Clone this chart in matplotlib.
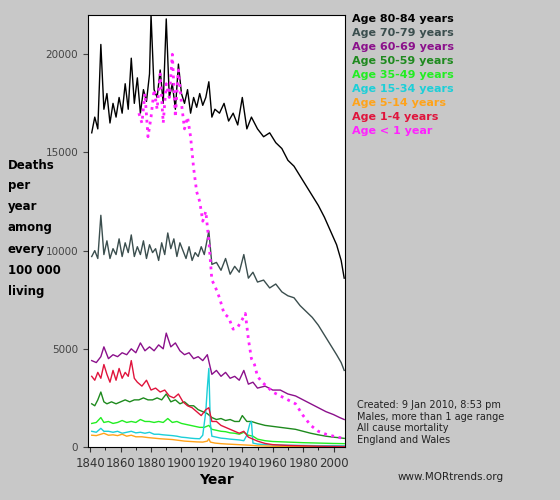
import matplotlib
matplotlib.use("Agg")
import matplotlib.pyplot as plt

yr80 = [1841,1843,1845,1847,1849,1851,1853,1855,1857,1859,1861,1863,1865,1867,1869,1871,1873,1875,1877,1879,1880,1882,1884,1886,1888,1890,1892,1894,1896,1898,1900,1902,1904,1906,1908,1910,1912,1914,1916,1918,1920,1922,1925,1928,1931,1934,1937,1940,1943,1946,1950,1954,1958,1962,1966,1970,1974,1978,1982,1986,1990,1994,1998,2002,2005,2007]
v80 = [16000,16800,16200,20500,17200,18000,16500,17500,16800,17800,17000,18500,17200,19800,17500,18800,17000,18200,17600,19000,22000,18200,17800,19200,17500,21800,17800,18500,17200,19500,18000,17500,18200,17000,17800,17300,18000,17400,17800,18600,16800,17200,17000,17500,16600,17000,16400,17800,16200,16800,16200,15800,16000,15500,15200,14600,14300,13800,13300,12800,12300,11700,11000,10300,9500,8600]
yr70 = [1841,1843,1845,1847,1849,1851,1853,1855,1857,1859,1861,1863,1865,1867,1869,1871,1873,1875,1877,1879,1881,1883,1885,1887,1889,1891,1893,1895,1897,1899,1901,1903,1905,1907,1909,1911,1913,1915,1918,1920,1923,1926,1929,1932,1935,1938,1941,1944,1947,1950,1954,1958,1962,1966,1970,1974,1978,1982,1986,1990,1994,1998,2002,2005,2007]
v70 = [9700,10000,9600,11800,9800,10500,9600,10100,9800,10600,9700,10400,9900,10800,9700,10200,9800,10500,9600,10300,9900,10100,9500,10400,9800,10900,10100,10600,9700,10400,10000,9600,10200,9500,9900,9700,10200,9800,11000,9300,9400,9000,9600,8800,9200,8900,9800,8600,8900,8400,8500,8100,8300,7900,7700,7600,7200,6900,6600,6200,5700,5200,4700,4300,3900]
yr60 = [1841,1844,1847,1849,1852,1855,1858,1861,1864,1867,1870,1873,1876,1879,1882,1885,1888,1890,1893,1896,1899,1902,1905,1908,1911,1914,1917,1920,1923,1926,1929,1932,1935,1938,1941,1944,1947,1950,1955,1960,1965,1970,1975,1980,1985,1990,1995,2000,2004,2007]
v60 = [4400,4300,4600,5100,4500,4700,4600,4800,4700,5000,4800,5300,4900,5100,4900,5200,5000,5800,5100,5300,4900,4700,4800,4500,4600,4400,4700,3700,3900,3600,3800,3500,3600,3400,3900,3200,3300,3000,3100,2900,2900,2700,2600,2400,2200,2000,1800,1650,1500,1400]
yr0 = [1872,1874,1876,1878,1880,1882,1884,1886,1888,1890,1892,1894,1896,1898,1900,1902,1904,1906,1908,1910,1912,1914,1916,1918,1920,1922,1925,1928,1931,1934,1937,1940,1942,1944,1946,1948,1950,1953,1956,1960,1965,1970,1975,1980,1985,1990,1995,2000,2004,2007]
v0 = [17000,16500,18000,15800,16800,18200,17200,19000,16500,18500,17800,20000,16800,19200,17500,16200,16800,15800,14200,13000,12500,11500,12000,10500,8500,8200,7600,6800,6600,6000,6100,6500,6800,5500,4500,4200,3600,3300,3100,2800,2600,2400,2200,1600,1100,800,650,550,480,450]
yr14 = [1841,1843,1845,1847,1849,1851,1853,1855,1857,1859,1861,1863,1865,1867,1869,1871,1874,1877,1880,1883,1886,1889,1892,1895,1898,1901,1904,1907,1910,1913,1916,1918,1920,1923,1926,1929,1932,1935,1938,1941,1944,1947,1950,1955,1960,1970,1980,1990,2000,2007]
v14 = [3600,3400,3800,3500,4200,3700,3300,3900,3400,4000,3500,3800,3600,4400,3500,3300,3100,3400,2900,3000,2800,2900,2600,2500,2700,2300,2100,2000,1800,1600,1900,2000,1300,1300,1100,1000,900,800,700,800,500,400,300,180,120,80,60,40,30,25]
yr50 = [1841,1843,1845,1847,1849,1851,1854,1857,1860,1863,1866,1869,1872,1875,1878,1881,1884,1887,1890,1893,1896,1899,1902,1905,1908,1911,1914,1917,1920,1923,1926,1929,1932,1935,1938,1940,1943,1946,1950,1955,1960,1965,1970,1975,1980,1985,1990,1995,2000,2004,2007]
v50 = [2200,2100,2400,2800,2300,2200,2300,2200,2300,2400,2300,2400,2400,2500,2400,2400,2500,2400,2700,2300,2400,2200,2300,2100,2100,1900,1800,1700,1500,1400,1450,1350,1400,1300,1300,1600,1300,1300,1200,1100,1050,1000,950,900,800,700,620,550,500,470,440]
yr35 = [1841,1844,1847,1849,1852,1855,1858,1861,1864,1867,1870,1873,1876,1879,1882,1885,1888,1891,1894,1897,1900,1903,1906,1909,1912,1915,1918,1920,1923,1926,1929,1932,1935,1938,1941,1944,1947,1950,1955,1960,1970,1980,1990,2000,2007]
v35 = [1200,1250,1500,1250,1300,1200,1250,1350,1250,1300,1250,1400,1300,1300,1250,1300,1250,1450,1250,1300,1200,1150,1100,1050,1000,1000,1100,900,850,800,780,720,700,650,750,600,550,400,320,280,250,220,200,180,170]
yr15 = [1841,1844,1847,1849,1852,1855,1858,1861,1864,1867,1870,1873,1876,1879,1882,1885,1888,1891,1894,1897,1900,1903,1906,1909,1912,1914,1916,1917,1918,1919,1920,1923,1926,1929,1932,1935,1938,1941,1943,1945,1946,1947,1950,1955,1960,1970,1980,1990,2000,2007]
v15 = [800,750,950,800,800,750,800,700,750,800,720,750,700,750,650,650,620,600,580,550,500,480,450,430,420,600,1800,3000,4000,1200,550,500,450,430,400,380,360,320,600,1200,1300,200,150,120,100,90,80,70,70,60]
yr5 = [1841,1844,1847,1849,1852,1855,1858,1861,1864,1867,1870,1874,1878,1882,1886,1890,1894,1898,1902,1906,1910,1914,1917,1918,1919,1922,1926,1930,1935,1940,1945,1950,1960,1970,1980,1990,2000,2007]
v5 = [600,580,650,700,600,620,580,650,550,600,520,520,480,450,420,400,380,340,300,280,260,250,300,420,250,200,170,150,130,110,90,60,40,30,25,20,15,15]

series = [
    ("Age 80-84 years", yr80, v80, "#000000", "-"),
    ("Age 70-79 years", yr70, v70, "#3b4e4e", "-"),
    ("Age 60-69 years", yr60, v60, "#8b108b", "-"),
    ("Age 50-59 years", yr50, v50, "#1e8a1e", "-"),
    ("Age 35-49 years", yr35, v35, "#22ee22", "-"),
    ("Age 15-34 years", yr15, v15, "#1ccfd8", "-"),
    ("Age 5-14 years", yr5, v5, "#ffa31a", "-"),
    ("Age 1-4 years", yr14, v14, "#e0143c", "-"),
    ("Age < 1 year", yr0, v0, "#ff22ff", ":"),
]
ylabel_lines = ["Deaths", "per", "year", "among", "every", "100 000", "living"]

fig = plt.figure(figsize=(5.6, 5.0), dpi=100, facecolor="#c8c8c8")
ax = fig.add_axes([0.157, 0.106, 0.459, 0.864])
ax.set_facecolor("white")
for lab, x, y, c, ls in series:
    ax.plot(x, y, color=c, ls=ls, lw=2.0 if ls == ":" else 1.0)
ax.set_xlim(1838.5, 2007.5)
ax.set_ylim(0, 22000)
ax.set_xticks(range(1840, 2001, 20))
ax.set_xticks(range(1840, 2008, 10), minor=True)
ax.set_yticks([0, 5000, 10000, 15000, 20000])
ax.tick_params(axis="y", labelsize=7.5, colors="#444444")
ax.tick_params(axis="x", labelsize=8.5, colors="#333333")
ax.set_xlabel("Year", fontsize=10, fontweight="bold", labelpad=2)

for i, t in enumerate(ylabel_lines):
    fig.text(8 / 560, 1 - (165 + 21 * i) / 500, t, fontsize=8.5, fontweight="bold", va="center")
y0 = 0.962
for i, (lab, x, y, c, ls) in enumerate(series):
    fig.text(0.628, y0 - i * 0.028, lab, color=c, fontsize=8, fontweight="bold", va="center")
fig.text(0.638, 0.2, "Created: 9 Jan 2010, 8:53 pm\nMales, more than 1 age range\nAll cause mortality\nEngland and Wales",
         fontsize=7, va="top", color="#222222")
fig.text(0.71, 0.04, "www.MORtrends.org", fontsize=7.5, color="#222222")
fig.savefig("out.png", dpi=100, facecolor=fig.get_facecolor())
